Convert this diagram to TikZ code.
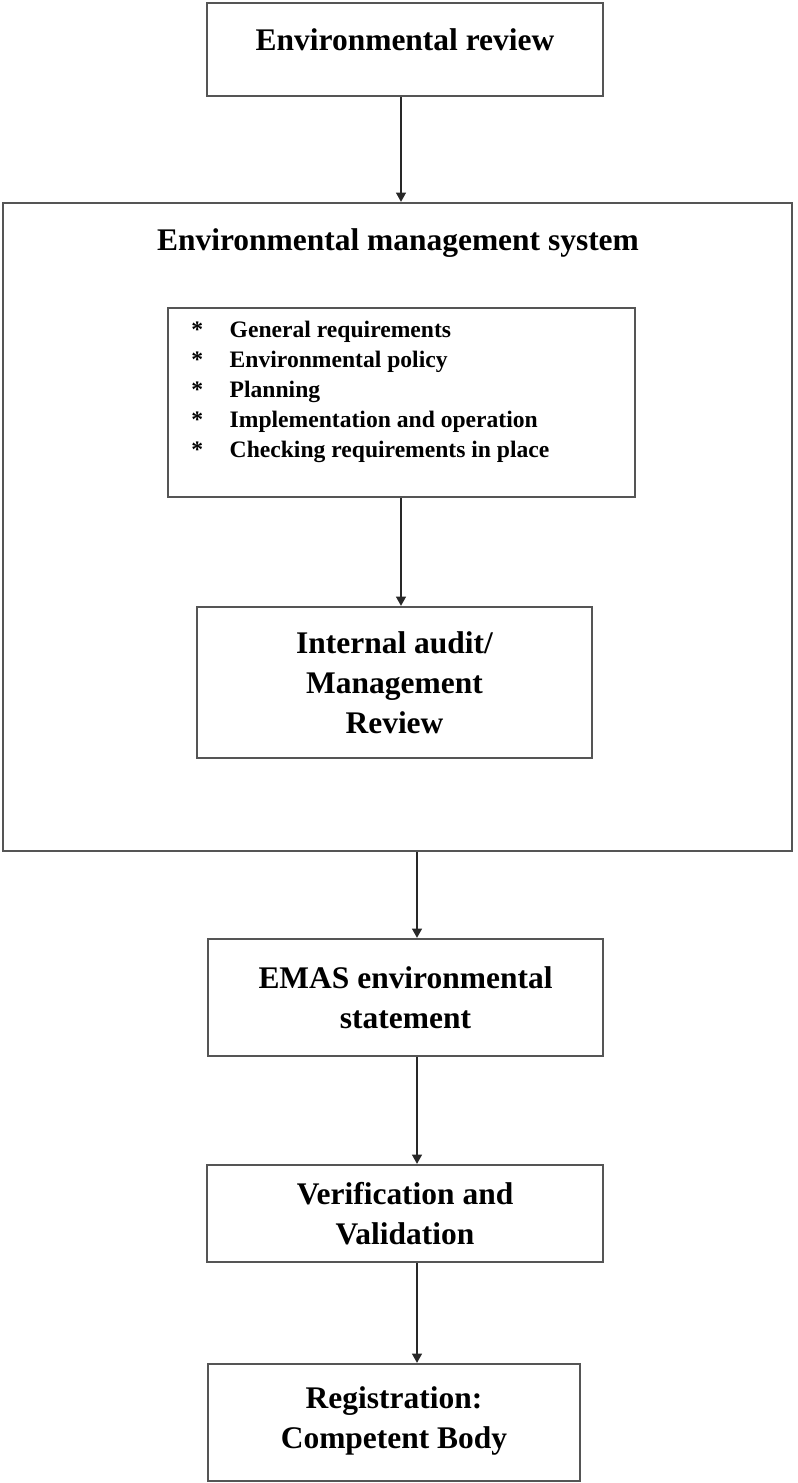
\documentclass[tikz,border=0pt]{standalone}
\usepackage{fontspec}
\setmainfont{Liberation Serif}
\usepackage{tikz}
\usetikzlibrary{arrows.meta, positioning}
\definecolor{boxgray}{RGB}{85,85,85}
\definecolor{arrowgray}{RGB}{40,40,40}
\tikzset{every node/.append style={align=center}}
\tikzset{
  blk/.style={rectangle, draw=boxgray, line width=1.7pt, fill=white,
    minimum width=297pt, minimum height=72pt, font=\fontsize{23.6}{30}\selectfont\bfseries,
    text centered, align=center, inner sep=0pt},
  sysbox/.style={rectangle, draw=boxgray, line width=1.7pt,
    minimum width=591.75pt, minimum height=486pt},
  lst/.style={rectangle, draw=boxgray, line width=1.7pt,
    minimum width=350.25pt, minimum height=141.75pt},
  ttl/.style={font=\fontsize{23.6}{30}\selectfont\bfseries, inner sep=0pt},
  itm/.style={font=\fontsize{17.7}{22.5}\selectfont\bfseries, inner sep=0pt, align=left},
  arrow/.style={-{Triangle[width=7.5pt,length=7pt]}, line width=1.1pt, arrowgray}
}

\begin{document}
\begin{tikzpicture}[x=0.75pt, y=-0.75pt]
  \useasboundingbox (0,0) rectangle (797,1483);
  \coordinate (upaxis) at (401,0);
  \coordinate (lowaxis) at (417,0);
  \node[blk, minimum height=69.75pt, text depth=14.7pt] (review) at (405,49.5) {Environmental review};
  \node[sysbox] (ems) at (397.5,527) {};
  \node[ttl] (emstitle) at (398,243) {Environmental management system};
  \node[lst] (reqs) at (401.5,402.5) {};
  \node[itm, anchor=west] (reqlist) at (191,392) {\begin{tabular}{@{}l@{\hspace{20pt}}l@{}}
    {*} & General requirements\\
    {*} & Environmental policy\\
    {*} & Planning\\
    {*} & Implementation and operation\\
    {*} & Checking requirements in place
  \end{tabular}};
  \node[blk, minimum width=296.25pt, minimum height=113.25pt] (audit) at (394.5,682.5) {Internal audit/\\Management\\Review};
  \node[blk, minimum width=296.25pt, minimum height=87.75pt] (emas) at (405.5,997.5) {EMAS environmental\\statement};
  \node[blk, minimum height=72.75pt] (verif) at (405,1213.5) {Verification and\\Validation};
  \node[blk, minimum width=279pt, minimum height=87.75pt, text depth=8pt] (reg) at (394,1422.5) {Registration:\\Competent Body};
  \draw[arrow] (review.south -| upaxis) -- (ems.north -| upaxis);
  \draw[arrow] (reqs.south -| upaxis) -- (audit.north -| upaxis);
  \draw[arrow] (ems.south -| lowaxis) -- (emas.north -| lowaxis);
  \draw[arrow] (emas.south -| lowaxis) -- (verif.north -| lowaxis);
  \draw[arrow] (verif.south -| lowaxis) -- (reg.north -| lowaxis);
\end{tikzpicture}
\end{document}
